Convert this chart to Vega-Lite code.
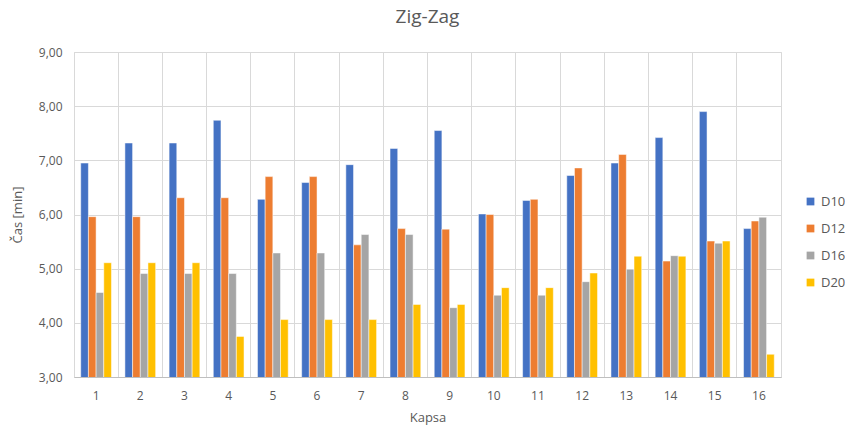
{
  "$schema": "https://vega.github.io/schema/vega-lite/v6.json",
  "width": 707,
  "height": 325,
  "autosize": {"type": "none"},
  "padding": {"left": 74, "top": 52, "right": 64, "bottom": 55},
  "background": "white",
  "title": {"text": "Zig-Zag", "fontSize": 19, "font": "Open Sans", "fontWeight": "normal", "color": "#595959", "anchor": "middle", "offset": 19, "frame": "group"},
  "config": {
    "view": {"stroke": "#d9d9d9", "strokeWidth": 1},
    "font": "Open Sans",
    "axis": {"labelFont": "Open Sans", "titleFont": "Open Sans", "labelColor": "#595959", "titleColor": "#595959", "labelFontSize": 12, "titleFontSize": 13, "titleFontWeight": "normal"}
  },
  "datasets": {
    "d": [
      {"kapsa": "1", "serie": "D10", "cas": 6.95}, {"kapsa": "1", "serie": "D12", "cas": 5.96}, {"kapsa": "1", "serie": "D16", "cas": 4.56}, {"kapsa": "1", "serie": "D20", "cas": 5.11},
      {"kapsa": "2", "serie": "D10", "cas": 7.32}, {"kapsa": "2", "serie": "D12", "cas": 5.96}, {"kapsa": "2", "serie": "D16", "cas": 4.91}, {"kapsa": "2", "serie": "D20", "cas": 5.11},
      {"kapsa": "3", "serie": "D10", "cas": 7.32}, {"kapsa": "3", "serie": "D12", "cas": 6.31}, {"kapsa": "3", "serie": "D16", "cas": 4.91}, {"kapsa": "3", "serie": "D20", "cas": 5.11},
      {"kapsa": "4", "serie": "D10", "cas": 7.74}, {"kapsa": "4", "serie": "D12", "cas": 6.31}, {"kapsa": "4", "serie": "D16", "cas": 4.91}, {"kapsa": "4", "serie": "D20", "cas": 3.75},
      {"kapsa": "5", "serie": "D10", "cas": 6.28}, {"kapsa": "5", "serie": "D12", "cas": 6.70}, {"kapsa": "5", "serie": "D16", "cas": 5.29}, {"kapsa": "5", "serie": "D20", "cas": 4.06},
      {"kapsa": "6", "serie": "D10", "cas": 6.59}, {"kapsa": "6", "serie": "D12", "cas": 6.70}, {"kapsa": "6", "serie": "D16", "cas": 5.29}, {"kapsa": "6", "serie": "D20", "cas": 4.06},
      {"kapsa": "7", "serie": "D10", "cas": 6.92}, {"kapsa": "7", "serie": "D12", "cas": 5.44}, {"kapsa": "7", "serie": "D16", "cas": 5.63}, {"kapsa": "7", "serie": "D20", "cas": 4.06},
      {"kapsa": "8", "serie": "D10", "cas": 7.22}, {"kapsa": "8", "serie": "D12", "cas": 5.74}, {"kapsa": "8", "serie": "D16", "cas": 5.63}, {"kapsa": "8", "serie": "D20", "cas": 4.34},
      {"kapsa": "9", "serie": "D10", "cas": 7.55}, {"kapsa": "9", "serie": "D12", "cas": 5.73}, {"kapsa": "9", "serie": "D16", "cas": 4.28}, {"kapsa": "9", "serie": "D20", "cas": 4.34},
      {"kapsa": "10", "serie": "D10", "cas": 6.01}, {"kapsa": "10", "serie": "D12", "cas": 6.00}, {"kapsa": "10", "serie": "D16", "cas": 4.51}, {"kapsa": "10", "serie": "D20", "cas": 4.65},
      {"kapsa": "11", "serie": "D10", "cas": 6.26}, {"kapsa": "11", "serie": "D12", "cas": 6.28}, {"kapsa": "11", "serie": "D16", "cas": 4.51}, {"kapsa": "11", "serie": "D20", "cas": 4.65},
      {"kapsa": "12", "serie": "D10", "cas": 6.72}, {"kapsa": "12", "serie": "D12", "cas": 6.86}, {"kapsa": "12", "serie": "D16", "cas": 4.76}, {"kapsa": "12", "serie": "D20", "cas": 4.92},
      {"kapsa": "13", "serie": "D10", "cas": 6.95}, {"kapsa": "13", "serie": "D12", "cas": 7.11}, {"kapsa": "13", "serie": "D16", "cas": 4.99}, {"kapsa": "13", "serie": "D20", "cas": 5.23},
      {"kapsa": "14", "serie": "D10", "cas": 7.42}, {"kapsa": "14", "serie": "D12", "cas": 5.14}, {"kapsa": "14", "serie": "D16", "cas": 5.24}, {"kapsa": "14", "serie": "D20", "cas": 5.23},
      {"kapsa": "15", "serie": "D10", "cas": 7.90}, {"kapsa": "15", "serie": "D12", "cas": 5.51}, {"kapsa": "15", "serie": "D16", "cas": 5.47}, {"kapsa": "15", "serie": "D20", "cas": 5.51},
      {"kapsa": "16", "serie": "D10", "cas": 5.74}, {"kapsa": "16", "serie": "D12", "cas": 5.88}, {"kapsa": "16", "serie": "D16", "cas": 5.95}, {"kapsa": "16", "serie": "D20", "cas": 3.42}
    ]
  },
  "data": {"name": "d"},
  "mark": {"type": "bar", "clip": true, "stroke": "white", "strokeWidth": 0.5},
  "encoding": {
    "x": {
      "field": "kapsa", "type": "ordinal", "sort": null,
      "scale": {"paddingInner": 0, "paddingOuter": 0},
      "axis": {"title": "Kapsa", "labelAngle": 0, "grid": true, "gridColor": "#d9d9d9", "bandPosition": 0, "ticks": false, "domainColor": "#bfbfbf", "labelPadding": 13, "titlePadding": 10}
    },
    "xOffset": {
      "field": "serie", "type": "nominal",
      "scale": {"paddingInner": 0, "paddingOuter": 0.875}
    },
    "y": {
      "field": "cas", "type": "quantitative",
      "scale": {"domain": [3, 9], "zero": false, "nice": false},
      "axis": {"title": "Čas [min]", "values": [3, 4, 5, 6, 7, 8, 9], "labelExpr": "replace(format(datum.value, '.2f'), '.', ',')", "grid": true, "gridColor": "#d9d9d9", "domain": false, "ticks": false, "labelPadding": 12, "titlePadding": 14}
    },
    "color": {
      "field": "serie", "type": "nominal",
      "scale": {"domain": ["D10", "D12", "D16", "D20"], "range": ["#4472C4", "#ED7D31", "#A5A5A5", "#FFC000"]},
      "legend": {"title": null, "orient": "none", "legendX": 730, "legendY": 143, "symbolType": "square", "symbolSize": 60, "symbolStrokeWidth": 0, "labelFontSize": 13, "labelColor": "#595959", "rowPadding": 13, "labelOffset": 4}
    }
  }
}
